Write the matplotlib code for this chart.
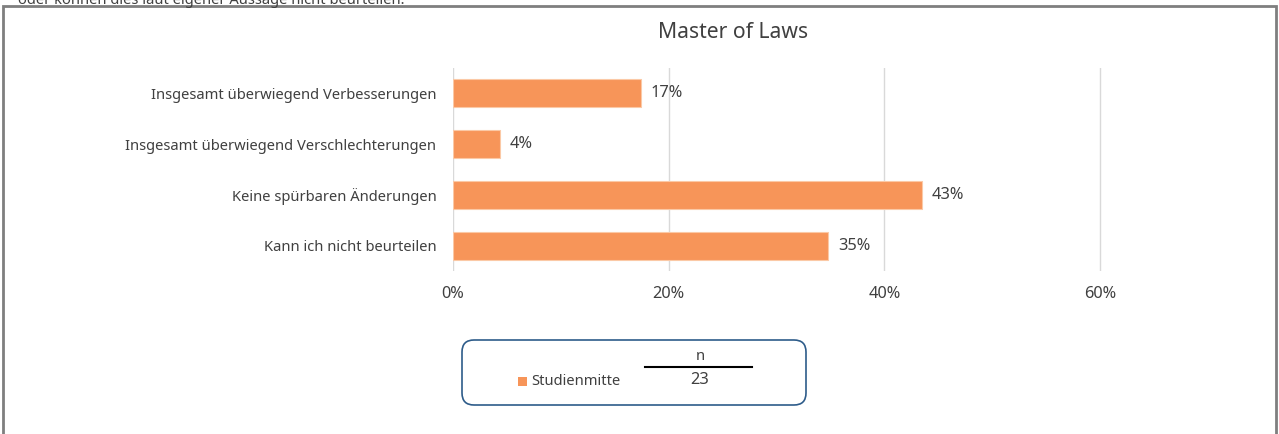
import matplotlib
matplotlib.use("Agg")
import matplotlib.pyplot as plt
from matplotlib.patches import FancyBboxPatch, Rectangle
from matplotlib.lines import Line2D

plt.rcParams['font.family'] = ['Noto Sans', 'DejaVu Sans']

categories = ["Insgesamt überwiegend Verbesserungen",
              "Insgesamt überwiegend Verschlechterungen",
              "Keine spürbaren Änderungen",
              "Kann ich nicht beurteilen"]
values = [17.39, 4.35, 43.48, 34.78]   # percent
series_name = "Studienmitte"
n_value = 23
title = "Master of Laws"
top_text = "oder können dies laut eigener Aussage nicht beurteilen."
xticks = [0, 20, 40, 60]

W, H = 1279, 434
BAR = "#F79559"
TXT = "#404040"
FS_TXT = 10.6
FS_NUM = 11.8

fig = plt.figure(figsize=(W/100, H/100), dpi=100)

# background overlay in pixel coordinates
bg = fig.add_axes([0, 0, 1, 1])
bg.set_xlim(0, W); bg.set_ylim(H, 0); bg.axis('off')
# outer frame
bg.add_line(Line2D([2.5, 2.5, 1275.5, 1275.5], [H + 5, 5.5, 5.5, H + 5],
                   color="#7f7f7f", lw=2, solid_joinstyle='miter'))
bg.text(18, 0, top_text, fontsize=FS_TXT, color=TXT, va='center', ha='left')
bg.text(733, 32, title, fontsize=15.2, color=TXT, va='center', ha='center')

# main axes
x0, x1 = 453, 1208
y0, y1 = 68, 271
ax = fig.add_axes([x0/W, 1 - y1/H, (x1 - x0)/W, (y1 - y0)/H])
ypos = list(range(len(categories)))
ax.barh(ypos, values, height=0.55, color=BAR, edgecolor="#FBC9A6", linewidth=0.8, zorder=3)
ax.set_xlim(0, 70)
ax.set_ylim(len(categories) - 0.5, -0.5)
ax.set_xticks(xticks)
ax.set_xticklabels([f"{t}%" for t in xticks], fontsize=FS_NUM, color=TXT)
ax.set_yticks(ypos)
ax.set_yticklabels(categories, fontsize=FS_TXT, color=TXT)
ax.tick_params(axis='both', length=0)
ax.tick_params(axis='x', pad=11)
ax.tick_params(axis='y', pad=12)
ax.grid(axis='x', color="#d9d9d9", lw=1, zorder=0)
for s in ax.spines.values():
    s.set_visible(False)
for y, v in zip(ypos, values):
    ax.annotate(f"{round(v):.0f}%", (v, y), xytext=(10, 0), textcoords='offset pixels',
                va='center', ha='left', fontsize=FS_NUM, color=TXT)

# legend box
bg.add_patch(FancyBboxPatch((462, 340), 344, 65, boxstyle="round,pad=0,rounding_size=12",
                            facecolor='white', edgecolor="#2E5C8A", lw=1.2))
bg.add_patch(Rectangle((518, 377), 9, 9, facecolor=BAR, edgecolor='none'))
bg.text(531, 381.5, series_name, fontsize=FS_TXT, color=TXT, va='center', ha='left')
bg.text(700, 356, "n", fontsize=FS_TXT, color=TXT, va='center', ha='center')
bg.add_line(Line2D([645, 752], [366.5, 366.5], color='black', lw=1.5))
bg.text(700, 380, str(n_value), fontsize=FS_NUM, color=TXT, va='center', ha='center')

fig.savefig("out.png", dpi=100)
